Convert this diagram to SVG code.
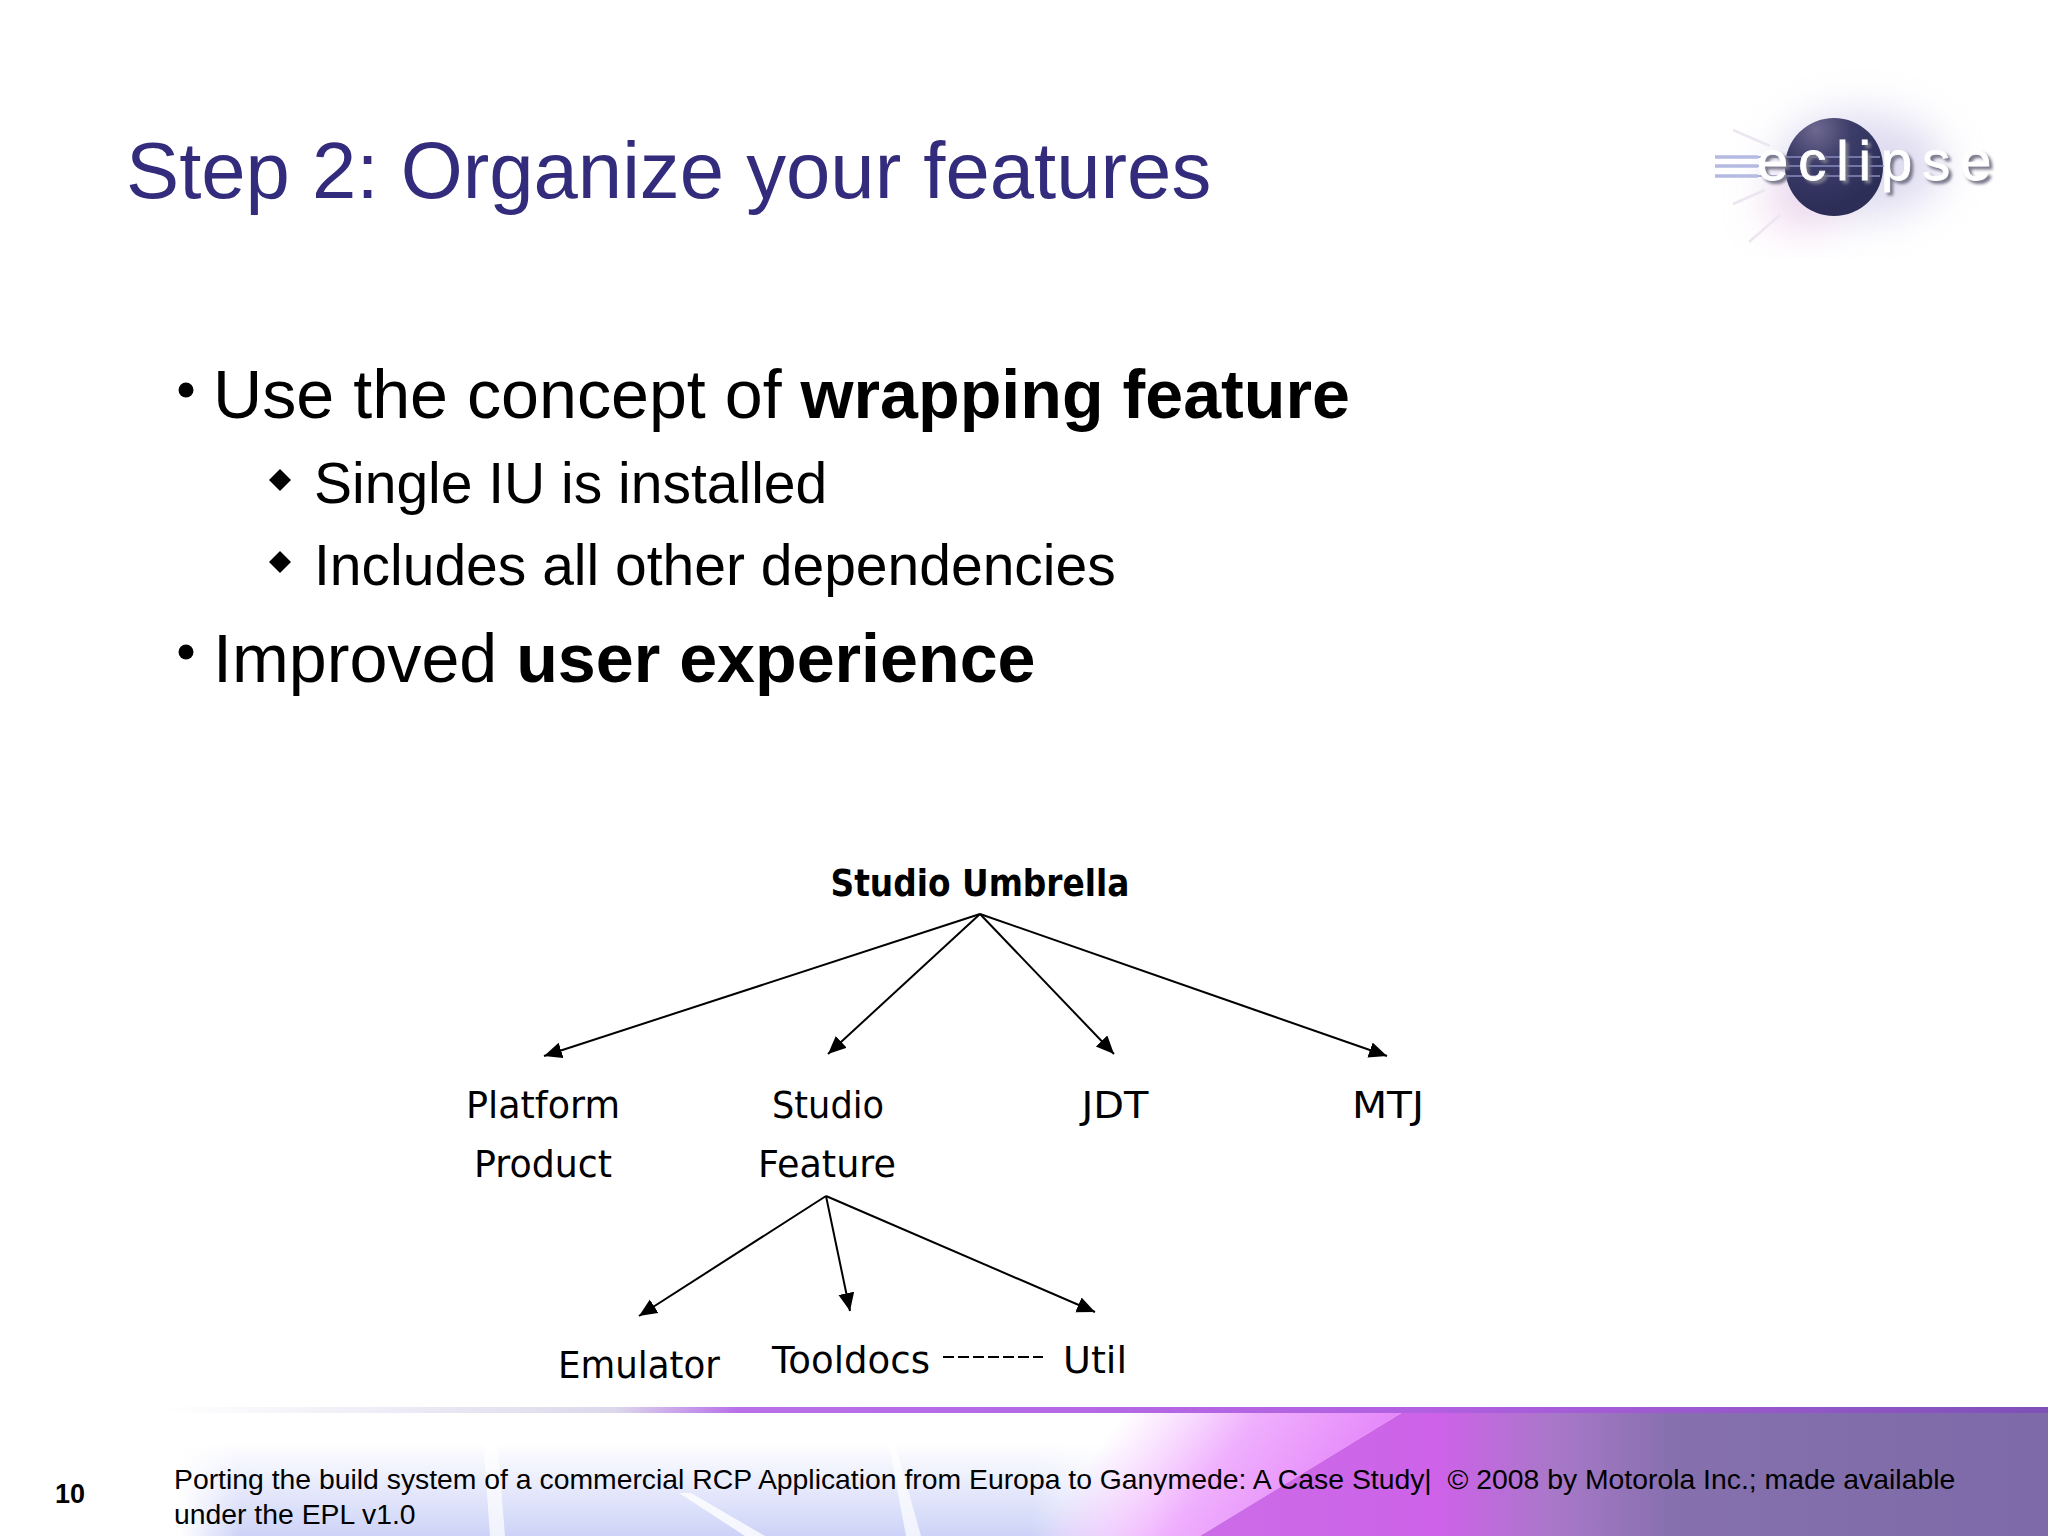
<svg xmlns="http://www.w3.org/2000/svg" width="2048" height="1536" viewBox="0 0 2048 1536">
<style>
.t{font-family:"Liberation Sans",Arial,sans-serif}
.n{font-family:"DejaVu Sans",Verdana,sans-serif;font-size:38px;fill:#000;text-anchor:middle}
.c{stroke:#000;stroke-width:2;fill:none;marker-end:url(#ah)}
.b1{font-size:68.2px;fill:#000}
.b2{font-size:57px;fill:#000}
.f{font-size:28.35px;fill:#000}
</style>
<defs>
<marker id="ah" markerUnits="userSpaceOnUse" markerWidth="20" markerHeight="18" refX="18" refY="8" orient="auto"><path d="M0 0L18 8L0 16z" fill="#000"/></marker>
<linearGradient id="v" gradientUnits="userSpaceOnUse" x1="0" x2="0" y1="1412" y2="1536">
<stop offset="0" stop-color="#fff"/><stop offset=".25" stop-color="#fff"/><stop offset="1" stop-color="#cdd3f8"/>
</linearGradient>
<linearGradient id="fadeL" gradientUnits="userSpaceOnUse" x1="180" x2="240" y1="0" y2="0">
<stop offset="0" stop-color="#fff"/><stop offset="1" stop-color="#fff" stop-opacity="0"/>
</linearGradient>
<linearGradient id="fadeR" gradientUnits="userSpaceOnUse" x1="1030" x2="1150" y1="0" y2="0">
<stop offset="0" stop-color="#fff" stop-opacity="0"/><stop offset="1" stop-color="#fff"/>
</linearGradient>
<linearGradient id="pink" gradientUnits="userSpaceOnUse" x1="1125" y1="1412" x2="1295" y2="1540">
<stop offset="0" stop-color="#f4c0ff" stop-opacity="0"/><stop offset=".5" stop-color="#efb0fd"/><stop offset="1" stop-color="#e68afa"/>
</linearGradient>
<linearGradient id="mag" gradientUnits="userSpaceOnUse" x1="1200" x2="2048" y1="0" y2="0">
<stop offset="0" stop-color="#cc6ce8"/><stop offset=".283" stop-color="#cd62e8"/><stop offset=".42" stop-color="#a878c8"/><stop offset=".56" stop-color="#8670ae"/><stop offset="1" stop-color="#7e6aa8"/>
</linearGradient>
<linearGradient id="band" x1="0" x2="1" y1="0" y2="0">
<stop offset=".08" stop-color="#fff"/><stop offset=".3" stop-color="#dcd8ec"/><stop offset=".36" stop-color="#b870e8"/><stop offset=".7" stop-color="#b060e0"/><stop offset="1" stop-color="#7f50b8"/>
</linearGradient>
<radialGradient id="ball" cx=".32" cy=".12" r=".8">
<stop offset="0" stop-color="#6e6890"/><stop offset=".45" stop-color="#3c3c68"/><stop offset="1" stop-color="#2c2e58"/>
</radialGradient>
<filter id="bl" x="-60%" y="-60%" width="220%" height="220%"><feGaussianBlur stdDeviation="20"/></filter>
<filter id="bs" x="-20%" y="-50%" width="140%" height="200%"><feGaussianBlur stdDeviation="1.5"/></filter>
</defs>

<rect width="2048" height="1536" fill="#fff"/>

<g id="footer-bg">
<rect x="180" y="1412" width="1000" height="124" fill="url(#v)"/>
<rect x="180" y="1412" width="60" height="124" fill="url(#fadeL)"/>
<rect x="1030" y="1412" width="150" height="124" fill="url(#fadeR)"/>
<path d="M483 1437L497 1437L505 1536L490 1536Z" fill="#fff" opacity=".7"/>
<path d="M679 1493L691 1493L765 1536L745 1536Z" fill="#fff" opacity=".8"/>
<path d="M888 1440L894 1440L921 1536L906 1536Z" fill="#fff" opacity=".7"/>
<path d="M1000 1412H1403L1200 1536H1000Z" fill="url(#pink)"/>
<path d="M1403 1412H2048V1536H1200Z" fill="url(#mag)"/>
<rect x="0" y="1407" width="2048" height="6" fill="url(#band)"/>
</g>

<g id="logo">
<ellipse cx="1860" cy="165" rx="85" ry="52" fill="#c9c4e6" opacity=".6" filter="url(#bl)"/>
<ellipse cx="1800" cy="205" rx="38" ry="24" fill="#ecc6e6" opacity=".6" filter="url(#bl)"/>
<path d="M1733 130L1770 146M1733 204L1765 190M1749 242L1780 215" stroke="#ece6f0" stroke-width="2.5" fill="none"/>
<circle cx="1834" cy="167" r="49" fill="url(#ball)"/>
<path d="M1715 157H1758M1715 166H1758M1715 176H1758" stroke="#b4bae2" stroke-width="3.5" fill="none"/>
<path d="M1758 157H1880M1758 166H1885M1758 176H1880" stroke="#8f92c4" stroke-width="2" opacity=".7" fill="none"/>
<text class="t" x="1760" y="183" font-size="56" letter-spacing="10" fill="#77778a" stroke="#77778a" stroke-width="1" filter="url(#bs)">eclipse</text>
<text class="t" x="1757" y="180" font-size="56" letter-spacing="10" fill="#fff" stroke="#fff" stroke-width=".8">eclipse</text>
</g>

<g id="title"><text class="t" x="126" y="198" font-size="79.7" fill="#332c7c">Step 2: Organize your features</text></g>

<g id="bullets">
<circle cx="186" cy="390" r="7.5" fill="#000"/>
<text class="t b1" x="213" y="418">Use the concept of <tspan font-weight="700">wrapping feature</tspan></text>
<path d="M280 469L291 480L280 491L269 480Z" fill="#000"/>
<text class="t b2" x="314" y="503">Single IU is installed</text>
<path d="M280 551L291 562L280 573L269 562Z" fill="#000"/>
<text class="t b2" x="314" y="585">Includes all other dependencies</text>
<circle cx="186" cy="652" r="7.5" fill="#000"/>
<text class="t b1" x="213" y="682">Improved <tspan font-weight="700">user experience</tspan></text>
</g>

<g id="connectors">
<line class="c" x1="980" y1="914" x2="544" y2="1056"/>
<line class="c" x1="980" y1="914" x2="828" y2="1054"/>
<line class="c" x1="980" y1="914" x2="1114" y2="1054"/>
<line class="c" x1="980" y1="914" x2="1387" y2="1056"/>
<line class="c" x1="826" y1="1196" x2="639" y2="1316"/>
<line class="c" x1="826" y1="1196" x2="850" y2="1311"/>
<line class="c" x1="826" y1="1196" x2="1095" y2="1312"/>
<line x1="943" y1="1357" x2="1043" y2="1357" stroke="#000" stroke-width="2" stroke-dasharray="11 4"/>
</g>

<g id="node-umbrella"><text class="n" x="980" y="896" font-weight="700" textLength="299" lengthAdjust="spacingAndGlyphs">Studio Umbrella</text></g>
<g id="node-platform"><text class="n" x="543" y="1118" textLength="154" lengthAdjust="spacingAndGlyphs">Platform</text><text class="n" x="543" y="1177" textLength="138" lengthAdjust="spacingAndGlyphs">Product</text></g>
<g id="node-studio"><text class="n" x="828" y="1118" textLength="112" lengthAdjust="spacingAndGlyphs">Studio</text><text class="n" x="827" y="1177" textLength="138" lengthAdjust="spacingAndGlyphs">Feature</text></g>
<g id="node-jdt"><text class="n" x="1115" y="1118" textLength="67" lengthAdjust="spacingAndGlyphs">JDT</text></g>
<g id="node-mtj"><text class="n" x="1388" y="1118" textLength="72" lengthAdjust="spacingAndGlyphs">MTJ</text></g>
<g id="node-emulator"><text class="n" x="639" y="1378" textLength="162" lengthAdjust="spacingAndGlyphs">Emulator</text></g>
<g id="node-tooldocs"><text class="n" x="851" y="1373" textLength="158" lengthAdjust="spacingAndGlyphs">Tooldocs</text></g>
<g id="node-util"><text class="n" x="1095" y="1373" textLength="64" lengthAdjust="spacingAndGlyphs">Util</text></g>

<g id="footer">
<text class="t" x="55" y="1503" font-size="27" font-weight="700" fill="#000">10</text>
<text class="t f" x="174" y="1489" xml:space="preserve">Porting the build system of a commercial RCP Application from Europa to Ganymede: A Case Study|  © 2008 by Motorola Inc.; made available</text>
<text class="t f" x="174" y="1524">under the EPL v1.0</text>
</g>
</svg>
